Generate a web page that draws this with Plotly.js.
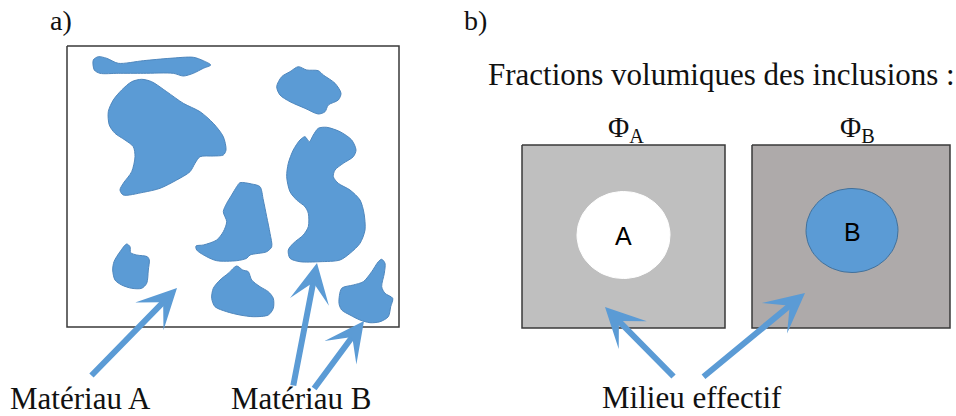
<!DOCTYPE html>
<html><head><meta charset="utf-8">
<script src="https://cdn.plot.ly/plotly-3.0.1.min.js"></script>
<style>html,body{margin:0;padding:0;background:#fff;}</style>
</head><body><div id="chart" style="width:956px;height:416px;"></div>
<script>
// Inclusion outlines (panel a), in picture units
const blobTopX = [93.3,98.3,106.7,118.3,143.3,170,193.3,203.3,210.7,203.3,193.3,183.3,173.3,143.3,118.3,100,94.3];
const blobTopY = [60,56.7,58.3,63.3,60.7,58.3,57.3,60.7,65,68.3,73.3,76,73.3,73.3,73.3,73.3,70];
const blobBigX = [141.7,151.7,166.7,183.3,200,213.3,223.3,226,223.3,213.3,200,195,190,176.7,160,143.3,123.3,120,123.3,131.7,135,133.3,125,115,109.3,108.3,113.3,121.7,131.7];
const blobBigY = [79.3,81.7,91.7,103.3,111.7,123.3,136.7,150,155,156,156.7,163.3,171.7,180,188.3,192.3,195,190,183.3,171.7,156.7,146.7,140,133.3,125,111.7,100,90,81.7];
const blobTRX = [298.3,306.7,318.3,323.3,335,341,338.3,328.3,325,318.3,305,290,280,276.7,281.7,290];
const blobTRY = [66.7,70,70.7,75,83.3,93.3,100,105,111.7,114,108.3,101.7,95,86.7,76.7,71.7];
const blobSX = [305,309.3,313.3,318.3,326.7,340,351.7,356,353.3,343.3,335,333.3,338.3,350,360,364,365,360,350,340,320,300,290,288.3,293.3,303.3,308.3,308.3,305,296.7,290,286.7,288.3,293.3,300];
const blobSY = [136.7,141.7,135,128.3,127.3,131.7,140,150,156.7,163.3,170,176.7,183.3,190,200,213.3,230,243.3,253.3,260,261.7,261.7,258.3,250,243.3,235,226.7,213.3,206.7,200,191.7,176.7,163.3,150,140];
const blobMidX = [240,251.7,260,263.3,266.7,270,271.7,266.7,250,246.7,236.7,216.7,206.7,196.7,196,203.3,216.7,223.3,226.7,223.3,226.7,231.7,236.7];
const blobMidY = [182.7,184,186.7,200,216.7,233.3,246.7,251.7,255,258.3,260.7,260.7,256.7,250,246,245,240,231.7,221.7,211.7,203.3,195,186.7];
const blobSmX = [126.7,130,130.7,136.7,147.3,149.3,148.3,146.7,141.7,131.7,121.7,115,112.7,114,120];
const blobSmY = [244,246.7,252.7,255,256.7,260,270,283.3,288.3,288.3,285,280,270,261.7,251.7];
const blobBotX = [236.7,242.7,248.3,251.7,260,268.3,273.3,273.3,268.3,253.3,240,226.7,215,211.7,213.3,220,228.3];
const blobBotY = [266,270,271.7,280,286.7,291.7,298.3,308.3,315,316.7,315,311.7,306.7,298.3,288.3,280,273.3];
const blobThX = [381.7,385,384.3,381.7,385,392.7,390.7,388.3,380,370,360,350,341.7,339,341.7,353.3,363.3,371.7,378.3];
const blobThY = [259.3,263.3,273.3,286.7,293.3,298.3,306.7,316.7,321.7,322.7,320,315,310,303.3,288.3,285,281.7,271.7,261.7];

// Frames (x0, y0, x1, y1) and fills
const frameNames = ["a", "phiA", "phiB"];
const frameX0 = [67, 522, 752];
const frameY0 = [46, 145, 145];
const frameX1 = [399, 725, 950];
const frameY1 = [327, 328, 328];
const frameFill = ["rgba(0,0,0,0)", "#bfbfbf", "#aeaaaa"];

// Inclusions in effective media
const inclLabels = ["A", "B"];
const inclCX = [623.5, 852];
const inclCY = [235, 230.5];
const inclRX = [46.5, 46];
const inclRY = [43.5, 42];
const inclFill = ["#ffffff", "#5b9bd5"];
const inclLine = ["#ffffff", "#41719c"];

// Arrows: tail -> tip
const arrowTailX = [90, 293, 313, 675, 702];
const arrowTailY = [377, 387, 390, 378, 378];
const arrowTipX = [177, 317, 364, 605, 805];
const arrowTipY = [288, 263, 321, 307, 293];

// Texts
const labelTexts = ["a)", "b)", "Matériau A", "Matériau B", "Milieu effectif"];
const labelX = [61, 475, 80, 301, 692];
const labelY = [20, 20, 398, 398, 397];
const titleText = "Fractions volumiques des inclusions :";
const phiTexts = ["Φ<sub>A</sub>", "Φ<sub>B</sub>"];
const phiX = [626, 857];
const phiY = [129, 129];

const blue = "#5b9bd5";
const blobs = [[blobTopX,blobTopY],[blobBigX,blobBigY],[blobTRX,blobTRY],[blobSX,blobSY],[blobMidX,blobMidY],[blobSmX,blobSmY],[blobBotX,blobBotY],[blobThX,blobThY]];

const traces = [];
frameNames.forEach((n,i)=>{
  traces.push({type:"scatter", mode:"lines", hoverinfo:"skip", showlegend:false,
    x:[frameX0[i],frameX1[i],frameX1[i],frameX0[i],frameX0[i]],
    y:[frameY0[i],frameY0[i],frameY1[i],frameY1[i],frameY0[i]],
    fill:"toself", fillcolor:frameFill[i], line:{color:"#3a3a3a", width:1.5}});
});
blobs.forEach(b=>{
  traces.push({type:"scatter", mode:"lines", hoverinfo:"skip", showlegend:false,
    x:b[0].concat([b[0][0]]), y:b[1].concat([b[1][0]]),
    fill:"toself", fillcolor:blue, line:{color:"#4f87bd", width:1, shape:"spline", smoothing:0.8}});
});
inclLabels.forEach((l,i)=>{
  const xs=[], ys=[];
  for(let k=0;k<=72;k++){const t=k/72*2*Math.PI; xs.push(inclCX[i]+inclRX[i]*Math.cos(t)); ys.push(inclCY[i]+inclRY[i]*Math.sin(t));}
  traces.push({type:"scatter", mode:"lines", hoverinfo:"skip", showlegend:false, x:xs, y:ys,
    fill:"toself", fillcolor:inclFill[i], line:{color:inclLine[i], width:1}});
});

const serif = "Liberation Serif, Times New Roman, serif";
const ann = [];
labelTexts.forEach((t,i)=>ann.push({x:labelX[i], y:labelY[i], xref:"x", yref:"y", text:t, showarrow:false,
  font:{family:serif, size:i<2?28:31, color:"#111"}}));
ann.push({x:486, y:74, xref:"x", yref:"y", xanchor:"left", text:titleText, showarrow:false, font:{family:serif, size:31, color:"#111"}});
phiTexts.forEach((t,i)=>ann.push({x:phiX[i], y:phiY[i], xref:"x", yref:"y", text:t, showarrow:false, font:{family:serif, size:29, color:"#111"}}));
inclLabels.forEach((t,i)=>ann.push({x:inclCX[i], y:inclCY[i]+1, xref:"x", yref:"y", text:t, showarrow:false, font:{family:"Liberation Sans, Arial, sans-serif", size:25, color:"#000"}}));
arrowTipX.forEach((tx,i)=>ann.push({x:tx, y:arrowTipY[i], ax:arrowTailX[i], ay:arrowTailY[i], xref:"x", yref:"y", axref:"x", ayref:"y",
  text:"", showarrow:true, arrowhead:3, arrowsize:1.1, arrowwidth:6, arrowcolor:blue}));

const layout = {width:956, height:416, margin:{l:0,r:0,t:0,b:0}, paper_bgcolor:"#fff", plot_bgcolor:"#fff",
  xaxis:{range:[0,956], visible:false, fixedrange:true},
  yaxis:{range:[416,0], visible:false, fixedrange:true},
  annotations:ann, showlegend:false};
Plotly.newPlot("chart", traces, layout, {staticPlot:true, displayModeBar:false});
</script></body></html>
